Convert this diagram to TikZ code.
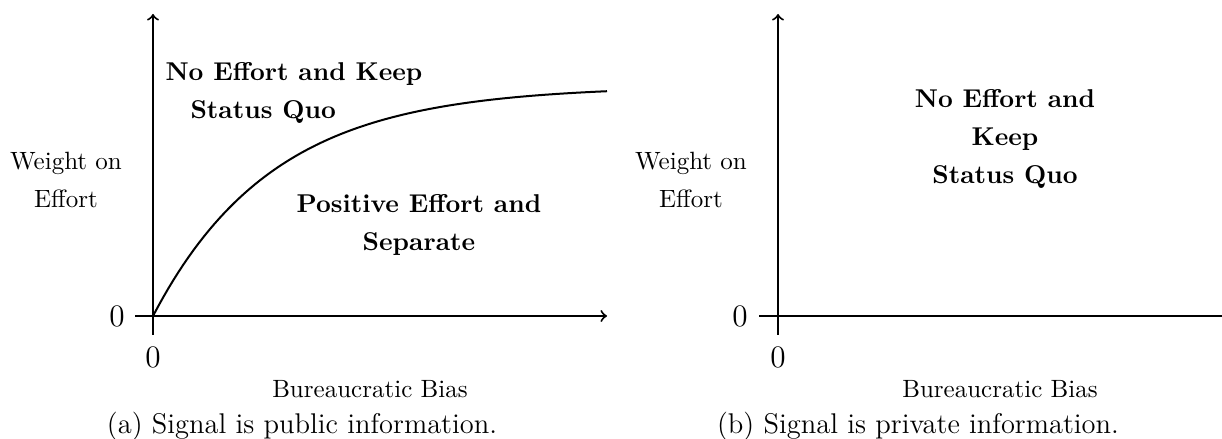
\documentclass[tikz,border=0pt]{standalone}
\begin{document}
\begin{tikzpicture}[x=0.4pt,y=-0.4pt,
  axis/.style={line width=0.8pt},
  lbl/.style={inner sep=0pt,font=\fontsize{10}{15.4}\selectfont,align=center},
  blbl/.style={inner sep=0pt,font=\fontsize{10.3}{15.2}\selectfont\bfseries},
  zero/.style={inner sep=0pt,font=\fontsize{12.5}{15}\selectfont},
  captext/.style={inner sep=0pt,anchor=base,font=\fontsize{11.4}{13}\selectfont}]
\useasboundingbox (0,0) rectangle (1222,439);
% left panel
\coordinate (La) at (153,316);
\coordinate (Lyb) at (153,335);
\coordinate (Lyt) at (153,14);
\coordinate (Lxl) at (135,316);
\coordinate (Lxr) at (607,316);
\draw[axis,->] (Lyb) -- (Lyt);
\draw[axis,->] (Lxl) -- (Lxr);
\draw[axis] plot[domain=0:454,samples=90] ({153+\x},{316-230*(1-exp(-\x/120))});
\node[zero] (L0y) at (117,316) {0};
\node[zero] (L0x) at (153,357) {0};
\node[lbl] (Lylab) at (66,180) {Weight on\\Effort};
\node[lbl] (Lxlab) at (370,389) {Bureaucratic Bias};
\node[blbl,align=left,anchor=north west] (Lno) at (165,62) {No Effort and Keep\\\hspace*{10pt}Status Quo};
\node[blbl,align=center] (Lpos) at (419,225) {Positive Effort and\\Separate};
\node[captext] (Lcap) at (302,433) {(a) Signal is public information.};
% right panel
\coordinate (Ryb) at (778,335);
\coordinate (Ryt) at (778,14);
\coordinate (Rxl) at (759,316);
\coordinate (Rxr) at (1222,316);
\draw[axis,->] (Ryb) -- (Ryt);
\draw[axis] (Rxl) -- (Rxr);
\node[zero] (R0y) at (740,316) {0};
\node[zero] (R0x) at (778,357) {0};
\node[lbl] (Rylab) at (691,180) {Weight on\\Effort};
\node[lbl] (Rxlab) at (1000,389) {Bureaucratic Bias};
\node[blbl,align=center] (Rno) at (1005,139) {No Effort and\\Keep\\Status Quo};
\node[captext] (Rcap) at (918,433) {(b) Signal is private information.};
\end{tikzpicture}
\end{document}
